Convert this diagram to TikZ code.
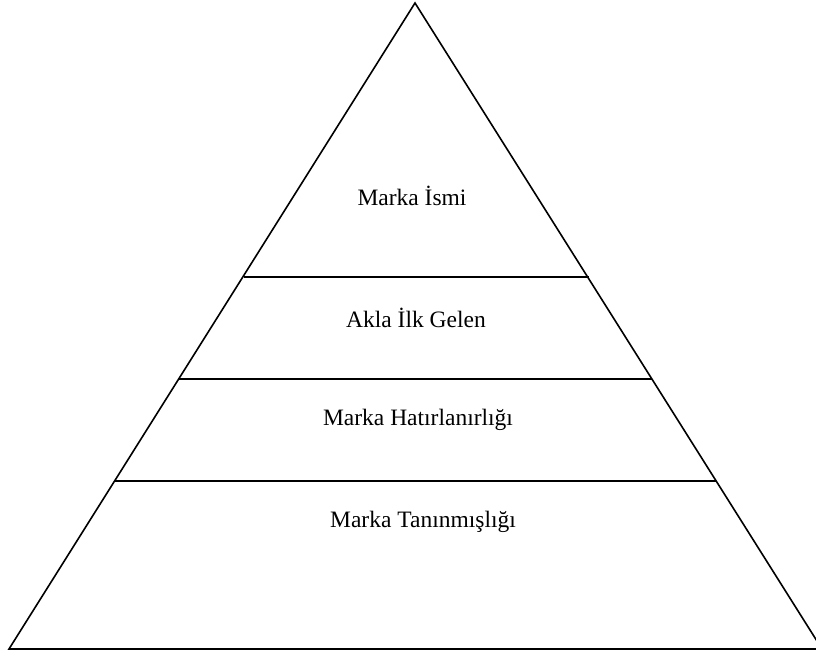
\documentclass[tikz,border=0pt]{standalone}
\usepackage{fontspec}
\setmainfont{Liberation Serif}
\begin{document}
\begin{tikzpicture}[x=1pt,y=-1pt,
  edge/.style={draw=black,line width=1.6pt},
  lbl/.style={font=\fontsize{23.5}{28}\selectfont,inner sep=0pt}]
  \useasboundingbox (0,0) rectangle (816,655);
  \clip (0,0) rectangle (816,655);
  % pyramid outline
  \coordinate (apex) at (415,3);
  \coordinate (bl) at (9,649);
  \coordinate (br) at (822,649);
  \draw[edge,line join=miter] (apex) -- (bl) -- (br) -- cycle;
  % tier dividers
  \coordinate (l1) at (244,277); \coordinate (r1) at (589,277);
  \coordinate (l2) at (178,379); \coordinate (r2) at (652,379);
  \coordinate (l3) at (115,481); \coordinate (r3) at (716,481);
  \draw[edge] (l1) -- (r1);
  \draw[edge] (l2) -- (r2);
  \draw[edge] (l3) -- (r3);
  % tier labels
  \node[lbl] (t1) at (412,196) {Marka İsmi};
  \node[lbl] (t2) at (416,318) {Akla İlk Gelen};
  \node[lbl] (t3) at (418,420) {Marka Hatırlanırlığı};
  \node[lbl] (t4) at (423,522) {Marka Tanınmışlığı};
\end{tikzpicture}
\end{document}
